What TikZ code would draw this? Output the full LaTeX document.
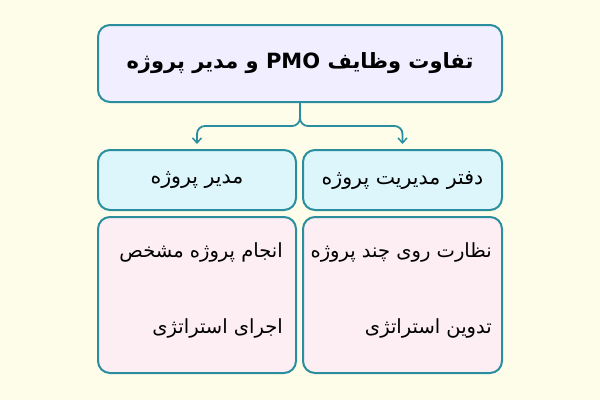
\documentclass[tikz,border=0pt]{standalone}
\usepackage{fontspec}
\usetikzlibrary{arrows.meta}
\TeXXeTstate=1
\newfontfamily\fa[Script=Arabic]{DejaVu Sans}
\definecolor{bg}{HTML}{FEFDE9}
\definecolor{tealb}{HTML}{2A8E9E}
\definecolor{lav}{HTML}{F1EFFF}
\definecolor{cyanf}{HTML}{DDF6FC}
\definecolor{pinkf}{HTML}{FDEEF4}
\begin{document}
\begin{tikzpicture}[x=1pt,y=-1pt,
  box/.style={draw=tealb,line width=2pt,rounded corners=12pt,inner sep=0pt},
  conn/.style={draw=tealb,line width=1.8pt,rounded corners=8pt,-{Straight Barb[length=5pt,width=9pt,line width=1.5pt]},shorten >=5pt},
  txt/.style={inner sep=0pt,anchor=east,font=\fa\fontsize{19.5}{23}\selectfont}]
\fill[bg] (0,0) rectangle (600,400);
\useasboundingbox (0,0) rectangle (600,400);
\node[box,fill=lav,minimum width=404pt,minimum height=77pt,font=\fa\bfseries\fontsize{21}{25}\selectfont] (title) at (300,63.5) {\beginR تفاوت وظایف \beginL PMO\endL{} و مدیر پروژه\endR};
\node[box,fill=cyanf,minimum width=198pt,minimum height=60pt,font=\fa\fontsize{20.5}{24}\selectfont] (pm) at (197,180) {\beginR مدیر پروژه\endR};
\node[box,fill=cyanf,minimum width=199pt,minimum height=60pt,font=\fa\fontsize{20.5}{24}\selectfont] (pmo) at (402.5,180) {\beginR دفتر مدیریت پروژه\endR};
\node[box,fill=pinkf,minimum width=198pt,minimum height=156pt] (pmb) at (197,295) {};
\node[box,fill=pinkf,minimum width=199pt,minimum height=156pt] (pmob) at (402.5,295) {};
\node[txt] (a1) at (283,252) {\beginR انجام پروژه مشخص\endR};
\node[txt] (a2) at (283,328) {\beginR اجرای استراتژی\endR};
\node[txt] (b1) at (492,252) {\beginR نظارت روی چند پروژه\endR};
\node[txt] (b2) at (492,328) {\beginR تدوین استراتژی\endR};
\draw[conn] (title.south) -- (300,126) -- (pm.north |- 0,126) -- (pm.north);
\draw[conn] (title.south) -- (300,126) -- (pmo.north |- 0,126) -- (pmo.north);
\end{tikzpicture}
\end{document}
